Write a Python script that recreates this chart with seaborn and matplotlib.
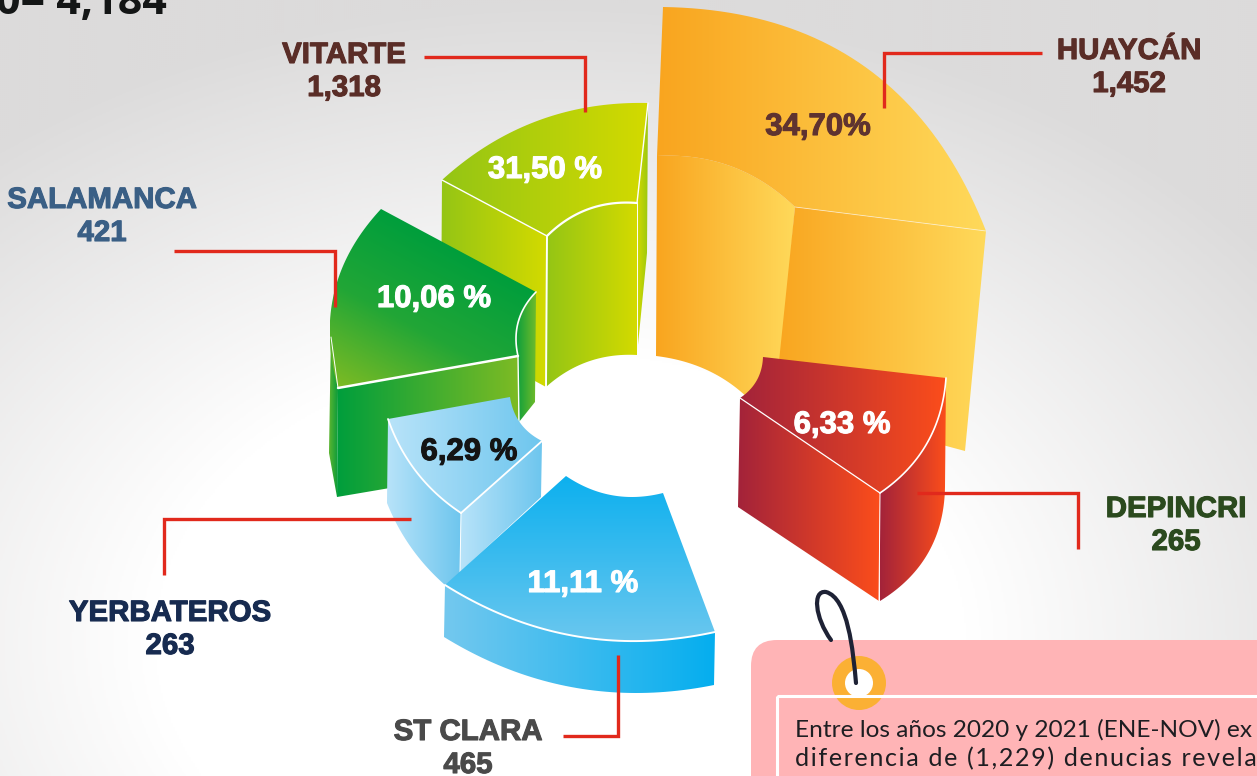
import numpy as np
import matplotlib
matplotlib.use('Agg')
import matplotlib.pyplot as plt
import matplotlib.patheffects as pe
from matplotlib.patches import Circle, FancyBboxPatch, PathPatch, Polygon, Rectangle
from matplotlib.path import Path
import seaborn as sns

# Values
sedes = ['HUAYCÁN', 'DEPINCRI', 'ST CLARA', 'YERBATEROS', 'SALAMANCA', 'VITARTE']
denuncias = ['1,452', '265', '465', '263', '421', '1,318']
porcentajes = ['34,70%', '6,33 %', '11,11 %', '6,29 %', '10,06 %', '31,50 %']
titulo = '0= 4,184'
nota = ['Entre los años 2020 y 2021 (ENE-NOV) ex', 'diferencia de (1,229) denucias revela']

# Label layout, in image pixels
name_pos = [(1129, 51), (1176, 509), (468, 732), (170, 613), (102, 200), (344, 55)]
name_colors = ['#5A2D27', '#2B4A1E', '#4A4A4A', '#172B50', '#3A5F85', '#5A2D27']
pct_pos = [(818, 127), (842, 425), (583, 584), (469, 452), (434, 299), (545, 170)]
pct_colors = ['#5F3330', 'white', 'white', '#141414', 'white', 'white']
leaders = [
    [(1042, 53), (884, 53), (884, 108)],
    [(917, 493), (1078, 493), (1078, 549)],
    [(563, 736), (618, 736), (618, 655)],
    [(411, 519), (164, 519), (164, 575)],
    [(174, 251), (335, 251), (335, 307)],
    [(424, 57), (585, 57), (585, 112)],
]

sns.set_theme(style='white')
fig = plt.figure(figsize=(12.57, 7.76), dpi=100)
ax = fig.add_axes([0, 0, 1, 1])


def arc(p, q, bulge=0, n=48):
    # curved edge from p to q, bulge is the offset at the middle
    p, q = np.array(p, float), np.array(q, float)
    d = q - p
    normal = np.array([d[1], -d[0]]) / np.hypot(*d)
    ctrl = (p + q) / 2 + 2 * bulge * normal
    t = np.linspace(0, 1, n)[:, None]
    return (1 - t) ** 2 * p + 2 * t * (1 - t) * ctrl + t ** 2 * q


def outline(*parts):
    return np.vstack([np.atleast_2d(np.array(part, float)) for part in parts])


def face(verts, colors, angle=0, z=2):
    # polygon filled with a linear gradient, angle in screen degrees
    verts = np.asarray(verts)
    cmap = sns.blend_palette(colors, as_cmap=True)
    x0, y0 = verts.min(axis=0)
    x1, y1 = verts.max(axis=0)
    xx, yy = np.meshgrid(np.linspace(x0, x1, 200), np.linspace(y0, y1, 200))
    ca, sa = np.cos(np.radians(angle)), np.sin(np.radians(angle))
    proj = xx * ca + yy * sa
    edge = verts[:, 0] * ca + verts[:, 1] * sa
    grad = (proj - edge.min()) / (edge.max() - edge.min())
    patch = Polygon(verts, closed=True, facecolor='none', edgecolor='none', transform=ax.transData)
    ax.add_patch(patch)
    im = ax.imshow(grad, cmap=cmap, vmin=0, vmax=1, extent=(x0, x1, y1, y0),
                   aspect='auto', zorder=z, interpolation='bilinear')
    im.set_clip_path(patch)


def white_edge(points, lw=1.0, z=3, alpha=1.0):
    points = np.asarray(points)
    ax.plot(points[:, 0], points[:, 1], color='white', lw=lw, alpha=alpha, zorder=z,
            solid_capstyle='round')


# Background
yy, xx = np.mgrid[0:776:2, 0:1257:2]
dist = np.sqrt(((xx - 560) / 900) ** 2 + ((yy - 640) / 640) ** 2)
bg = np.clip((dist - 0.45) / 0.55, 0, 1)
bg_cmap = sns.blend_palette(['#FFFFFF', '#DCDBDB'], as_cmap=True)
ax.imshow(bg, cmap=bg_cmap, vmin=0, vmax=1, extent=(0, 1257, 776, 0), aspect='auto', zorder=0)

# The slices of the source are not drawn to scale, their outlines are layout
# Huaycan
orange = ['#F9A51F', '#FFD95A']
face(outline(arc((657, 156), (795, 207), 16), [(775, 432)], arc((775, 432), (656, 356), -17)), orange, z=2)
face([(795, 207), (986, 231), (965, 451), (775, 400)], orange, z=2)
face(outline(arc((663, 7), (986, 231), 66), [(795, 207)], arc((795, 207), (657, 156), -16)), orange, z=2)
white_edge([(795, 207), (986, 231)], lw=0.6, alpha=0.6)

# Vitarte
lime = ['#94C515', '#D3DA00']
face([(442, 180), (547, 236), (546, 387), (441, 330)], lime, z=2)
face(outline(arc((547, 236), (637, 203), 11), [(637, 355)], arc((637, 355), (546, 387), -10)), lime, z=2)
face([(637, 203), (648, 103), (647, 253), (637, 355)], ['#D3DA00', '#9CC80F'], z=2)
face(outline(arc((442, 180), (648, 103), 22), [(637, 203)], arc((637, 203), (547, 236), -11)), lime, z=2)
white_edge([(442, 180), (547, 236)], lw=1)
white_edge([(637, 203), (648, 103)], lw=1)
white_edge(arc((547, 236), (637, 203), 11), lw=1.6)
white_edge([(547, 236), (546, 387)], lw=1.4)
white_edge([(637, 203), (637, 355)], lw=0.7)

# Salamanca
green = ['#009E3C', '#7DBB24']
face([(331, 330), (338, 388), (337, 497), (329, 453)], ['#5CB531', '#0B9B3A'], z=4)
face([(338, 388), (518, 356), (519, 466), (337, 497)], green, z=4)
face(outline(arc((536, 292), (518, 356), -9), [(519, 422), (535, 402)]), ['#0A9E3C', '#6FBB2A'], z=4)
face(outline(arc((338, 388), (381, 209), 26), [(536, 292)], arc((536, 292), (518, 356), -9)),
     ['#009E3C', '#22A636', '#7DBB24'], angle=118, z=4)
white_edge([(338, 388), (518, 356)], lw=1.8, z=5)
white_edge(arc((536, 292), (518, 356), -9), lw=1.2, z=5)
white_edge([(518, 356), (519, 422)], lw=1.0, z=5)
white_edge([(331, 337), (338, 388)], lw=0.7, z=5)

# Depincri
red = ['#A3233A', '#FB4D1B']
face([(740, 398), (880, 493), (879, 601), (738, 507)], red, z=6)
face(outline(arc((946, 378), (880, 493), 16), [(880, 601)], arc((880, 601), (945, 487), -18)), red, z=6)
face(outline([(763, 357), (946, 378)], arc((946, 378), (880, 493), 16), [(740, 398)], arc((740, 398), (763, 357), -6)), red, z=6)
white_edge([(740, 398), (880, 493)], lw=0.9, z=7)
white_edge(arc((946, 378), (880, 493), 16), lw=1.2, z=7)
white_edge([(880, 493), (879, 601)], lw=0.7, z=7)

# Yerbateros
sky = ['#B8E3F9', '#6EC6EE']
face(outline(arc((388, 419), (461, 513), -10), [(460, 600), (445, 585)], arc((445, 585), (387, 503), 6)), sky, z=8)
face([(461, 513), (542, 441), (541, 497), (460, 572)], sky, z=8)
face(outline([(388, 419), (510, 397)], arc((510, 397), (542, 441), -7), [(461, 513)], arc((461, 513), (388, 419), 10)), sky, z=8)
white_edge([(461, 513), (542, 441)], lw=1.3, z=9)
white_edge(arc((388, 419), (461, 513), -10), lw=1.3, z=9)
white_edge([(461, 513), (460, 572)], lw=0.7, z=9)

# St Clara
face(outline(arc((445, 585), (715, 632), -28), [(714, 685)], arc((714, 685), (444, 637), 27)), ['#73C8EE', '#05AEEF'], z=10)
face(outline(arc((445, 585), (715, 632), -28), [(663, 493)], arc((663, 493), (566, 476), 11)), ['#0CB0EF', '#6AC7EE'], angle=90, z=10)
white_edge(arc((445, 585), (715, 632), -28), lw=1.4, z=11)

# Leader lines
for pts in leaders:
    xs, ys = zip(*pts)
    sns.lineplot(x=list(xs), y=list(ys), sort=False, estimator=None, color='#E1291C', lw=2.4,
                 ax=ax, zorder=12, solid_joinstyle='miter', solid_capstyle='butt')

# Labels
heavy = dict(family='Liberation Sans', fontweight='bold', ha='center', va='center', zorder=14)
for i, sede in enumerate(sedes):
    x, y = name_pos[i]
    stroke = [pe.withStroke(linewidth=0.8, foreground=name_colors[i])]
    ax.text(x, y, sede, fontsize=21.2, color=name_colors[i], path_effects=stroke, **heavy)
    ax.text(x, y + 33, denuncias[i], fontsize=21.2, color=name_colors[i], path_effects=stroke, **heavy)
    stroke = [pe.withStroke(linewidth=0.8, foreground=pct_colors[i])]
    ax.text(pct_pos[i][0], pct_pos[i][1], porcentajes[i], fontsize=22.4, color=pct_colors[i],
            path_effects=stroke, **heavy)

ax.text(167, 14, titulo, family='Open Sans', fontweight='bold', fontsize=31, color='#141616',
        ha='right', va='baseline', zorder=14)

# Note card with the tag ring and cord
ax.add_patch(FancyBboxPatch((751, 640), 640, 300, boxstyle='round,pad=0,rounding_size=26',
                            facecolor='#FFB4B6', edgecolor='none', zorder=15))
ax.add_patch(Circle((859, 683), 27, facecolor='#FBB034', edgecolor='none', zorder=16))
ax.add_patch(Circle((859, 683), 14, facecolor='white', edgecolor='none', zorder=17))
ax.add_patch(Rectangle((777, 696), 640, 200, fill=False, edgecolor='white', lw=2.2, zorder=18))
cord = Path([(856, 683), (853, 650), (848, 598), (826, 592), (812, 590), (815, 618), (831, 640)],
            [Path.MOVETO, Path.CURVE4, Path.CURVE4, Path.CURVE4, Path.CURVE4, Path.CURVE4, Path.CURVE4])
ax.add_patch(PathPatch(cord, fill=False, edgecolor='#1E2235', lw=3.0, capstyle='round', zorder=19))

# second line is letter spaced in the source, hair spaces give the same look
tracked = '\u200a'.join(nota[1])
note_font = ['Lato', 'DejaVu Sans']
ax.text(795, 737, nota[0], family=note_font, fontsize=17.6, color='#1E1E22', ha='left', va='baseline', zorder=20)
ax.text(795, 766, tracked, family=note_font, fontsize=18.1, color='#1E1E22', ha='left', va='baseline', zorder=20)

ax.set_xlim(0, 1257)
ax.set_ylim(776, 0)
ax.axis('off')
fig.savefig('out.png', dpi=100)
